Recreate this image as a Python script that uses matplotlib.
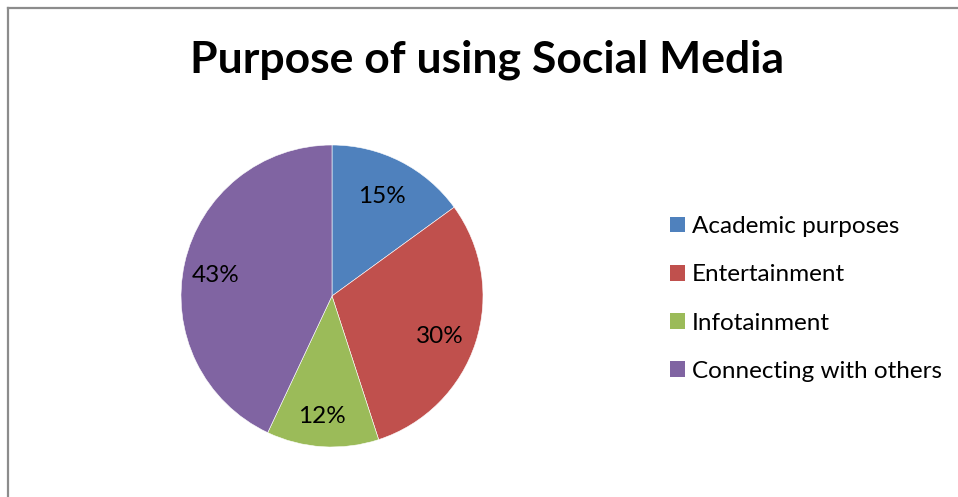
import matplotlib.pyplot as plt
from matplotlib.lines import Line2D
from matplotlib.patches import Patch

plt.rcParams['font.family'] = ['Lato', 'DejaVu Sans']

labels = ['Academic purposes', 'Entertainment', 'Infotainment', 'Connecting with others']
shares = [15, 30, 12, 43]
colors = ['#4F81BD', '#C0504D', '#9BBB59', '#8064A2']

W, H = 958, 497
fig = plt.figure(figsize=(W / 100, H / 100), dpi=100)

# chart frame (only left and top edges show)
fig.add_artist(Line2D([8 / W, 8 / W], [0, 1 - 8 / H], color='#8c8c8c', lw=1.6))
fig.add_artist(Line2D([8 / W, 1], [1 - 8 / H, 1 - 8 / H], color='#8c8c8c', lw=1.6))

fig.text(487 / W, 1 - 60 / H, 'Purpose of using Social Media', ha='center', va='center',
         fontsize=32, fontweight='bold', color='black')

# pie centred at (332, 296) px, radius 151 px
cx, cy, r = 332, 296, 151
ax = fig.add_axes([(cx - r) / W, 1 - (cy + r) / H, 2 * r / W, 2 * r / H])
wedges, texts, autotexts = ax.pie(shares, colors=colors, startangle=90, counterclock=False,
                                  autopct='%1.0f%%', pctdistance=0.77,
                                  wedgeprops=dict(edgecolor='white', linewidth=0.4),
                                  textprops=dict(fontsize=17.5, color='black'))
# nudge percentage labels slightly down
for t in autotexts:
    x, y = t.get_position()
    t.set_position((x - 0.02, y - 0.03))
ax.set_xlim(-1, 1)
ax.set_ylim(-1, 1)
ax.set_aspect('equal')

handles = [Patch(facecolor=c, edgecolor='none') for c in colors]
fig.legend(handles, labels, loc='center left', bbox_to_anchor=(660 / W, 1 - 299 / H),
           frameon=False, fontsize=17.5, handlelength=0.62, handleheight=0.62,
           handletextpad=0.3, labelspacing=1.12, borderaxespad=0, borderpad=0.4)

fig.savefig('out.png', dpi=100, facecolor='white')
